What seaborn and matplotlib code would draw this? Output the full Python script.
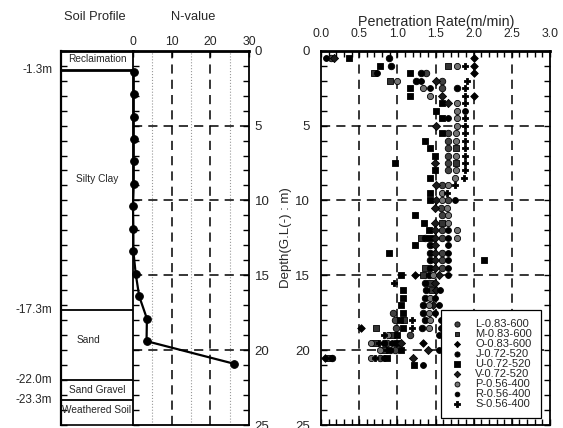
import matplotlib
matplotlib.use("Agg")
import matplotlib.pyplot as plt
import seaborn as sns
from matplotlib.ticker import MultipleLocator

sns.set_style("white")
plt.rcParams["font.family"] = ["Liberation Sans", "DejaVu Sans"]

# ---------------- soil profile ----------------
layer_bounds = [1.3, 17.3, 22.0, 23.3]
bound_labels = ["-1.3m", "-17.3m", "-22.0m", "-23.3m"]
layer_names = ["Reclaimation", "Silty Clay", "Sand", "Sand Gravel", "Weathered Soil"]
layer_label_depth = [0.55, 8.6, 19.3, 22.65, 24.0]
layer_label_x = [0.5, 0.5, 0.38, 0.5, 0.5]

# ---------------- SPT N-value ----------------
spt_depth = [1.4, 2.9, 4.4, 5.9, 7.4, 8.9, 10.4, 11.9, 13.4, 14.9, 16.4, 17.9, 19.4, 20.9]
spt_n = [0.2, 0.2, 0.2, 0.2, 0.2, 0.2, 0.0, 0.1, 0.1, 0.7, 1.6, 3.6, 3.5, 26.0]

# ---------------- penetration rate (m/min) by series ----------------
L_depth = [0.5, 1.5, 2.0, 2.5, 5.5, 6.0, 6.5, 7.0, 7.5, 8.0, 9.0, 10.0, 10.5, 11.0, 12.0, 12.5,
           13.5, 14.0, 14.5, 17.5, 18.0, 18.5, 19.0, 19.5, 20.0, 20.5]
L_rate = [0.13, 1.37, 1.59, 1.58, 1.67, 1.67, 1.67, 1.67, 1.67, 1.67, 1.58, 1.66, 1.57, 1.58, 1.58, 1.58,
          1.58, 1.58, 1.58, 0.94, 0.97, 0.98, 1.17, 0.86, 0.97, 0.77]

M_depth = [1.0, 1.5, 2.0, 6.5, 7.5, 11.5, 12.5, 14.5, 15.0, 15.5, 16.0, 18.0, 18.5, 19.0, 19.5, 20.0, 20.5]
M_rate = [1.67, 0.70, 0.91, 1.77, 1.77, 1.58, 1.31, 1.36, 1.34, 1.43, 1.45, 1.09, 0.72, 0.93, 0.71, 0.82, 0.10]

O_depth = [0.5, 1.0, 1.5, 3.0, 15.0, 18.5, 19.5, 20.5]
O_rate = [2.01, 2.01, 2.01, 2.01, 1.23, 0.52, 1.34, 0.05]

J_depth = [0.5, 1.0, 1.5, 2.0, 2.5, 12.5, 13.0, 13.5, 14.0, 14.5, 15.0, 15.5, 16.0, 16.5, 17.0, 17.5,
           18.0, 18.5, 19.5, 20.0, 20.5]
J_rate = [0.89, 0.92, 1.31, 1.25, 1.78, 1.36, 1.43, 1.43, 1.43, 1.43, 1.41, 1.36, 1.38, 1.36, 1.34, 1.34,
          1.36, 1.32, 0.82, 0.90, 0.15]

U_depth = [0.5, 1.0, 1.5, 2.5, 3.0, 3.5, 4.0, 4.5, 5.5, 6.0, 6.5, 7.0, 7.5, 8.0, 8.5, 9.5, 10.0, 11.0,
           11.5, 12.0, 12.5, 13.0, 13.5, 14.0, 15.0, 16.0, 16.5, 17.0, 17.5, 18.0, 18.5, 19.0, 19.5,
           20.0, 20.5, 21.0]
U_rate = [0.37, 0.77, 1.17, 1.17, 1.17, 1.58, 1.50, 1.58, 1.58, 1.36, 1.43, 1.49, 0.97, 1.49, 1.43, 1.43,
          1.43, 1.23, 1.35, 1.41, 1.43, 1.23, 0.89, 2.13, 1.05, 1.08, 1.08, 1.05, 1.07, 1.04, 1.07, 0.99,
          1.00, 1.05, 0.87, 1.22]

V_depth = [0.5, 2.0, 3.0, 3.5, 5.0, 7.5, 9.0, 10.0, 10.5, 11.5, 12.0, 12.5, 13.0, 13.5, 14.0, 14.5,
           15.0, 15.5, 16.0, 17.0, 19.5, 20.0, 20.5]
V_rate = [0.17, 1.50, 1.59, 1.67, 1.50, 1.49, 1.50, 1.50, 1.49, 1.49, 1.49, 1.49, 1.49, 1.49, 1.49, 1.49,
          1.55, 1.49, 1.50, 1.47, 1.05, 1.40, 1.21]

P_depth = [1.0, 2.0, 2.5, 3.0, 3.5, 4.0, 4.5, 5.0, 5.5, 6.0, 7.0, 8.0, 8.5, 9.0, 9.5, 10.0, 10.5, 11.0,
           11.5, 12.0, 12.5, 15.0, 16.5, 17.0, 17.5, 18.0, 18.5, 19.0, 19.5, 20.0, 20.5]
P_rate = [1.78, 0.99, 1.34, 1.43, 1.78, 1.78, 1.78, 1.78, 1.77, 1.77, 1.77, 1.77, 1.76, 1.67, 1.58, 1.58,
          1.65, 1.66, 1.66, 1.78, 1.78, 1.47, 1.43, 1.41, 1.41, 1.43, 1.41, 0.88, 0.66, 0.77, 0.66]

R_depth = [0.5, 1.5, 2.0, 2.5, 4.0, 4.5, 10.0, 12.0, 12.5, 13.0, 13.5, 14.0, 14.5, 15.0, 16.0, 16.5,
           17.0, 17.5, 18.0, 18.5, 19.0, 19.5, 20.0, 20.5, 21.0]
R_rate = [0.07, 0.73, 1.31, 1.43, 1.89, 1.67, 1.76, 1.67, 1.67, 1.67, 1.67, 1.67, 1.67, 1.66, 1.56, 1.49,
          1.55, 1.49, 1.57, 1.57, 1.55, 0.93, 1.55, 0.82, 1.33]

S_depth = [1.0, 2.0, 2.5, 3.0, 3.5, 4.5, 5.0, 5.5, 6.0, 6.5, 7.0, 7.5, 8.0, 8.5, 9.0, 9.5, 15.5, 18.0,
           18.5, 19.0, 19.5, 20.0, 20.5]
S_rate = [1.88, 1.91, 1.89, 1.89, 1.89, 1.89, 1.89, 1.88, 1.88, 1.88, 1.88, 1.88, 1.88, 1.87, 1.76, 1.65,
          0.95, 1.19, 1.19, 0.82, 0.76, 0.86, 0.71]

series_names = ["L-0.83-600", "M-0.83-600", "O-0.83-600", "J-0.72-520", "U-0.72-520",
                "V-0.72-520", "P-0.56-400", "R-0.56-400", "S-0.56-400"]
series_depth = [L_depth, M_depth, O_depth, J_depth, U_depth, V_depth, P_depth, R_depth, S_depth]
series_rate = [L_rate, M_rate, O_rate, J_rate, U_rate, V_rate, P_rate, R_rate, S_rate]
series_style = [
    dict(marker="o", s=22, color="0.25"),
    dict(marker="s", s=16, color="0.2"),
    dict(marker="D", s=15, color="black"),
    dict(marker="o", s=22, color="black"),
    dict(marker="s", s=22, color="black"),
    dict(marker="D", s=17, color="0.1"),
    dict(marker="o", s=20, color="0.45"),
    dict(marker="o", s=18, color="black"),
    dict(marker="P", s=24, color="black"),
]

# ---------------- layout ----------------
W, H = 563, 428
fig = plt.figure(figsize=(W / 100, H / 100), dpi=100)


def fx(px):
    return px / W


def fy(py):
    return 1 - py / H


top_px, bot_px = 50.7, 425.0
y0, hh = fy(bot_px), fy(top_px) - fy(bot_px)
ax_soil = fig.add_axes([fx(61), y0, fx(133) - fx(61), hh])
ax_n = fig.add_axes([fx(133), y0, fx(249) - fx(133), hh])
ax_p = fig.add_axes([fx(321), y0, fx(550) - fx(321), hh])

dash = (0, (6, 4))
tick_kw = dict(direction="in", color="black")

# soil profile column
ax_soil.set_xlim(0, 1)
ax_soil.set_ylim(25, 0)
ax_soil.spines["right"].set_visible(False)
ax_soil.spines["left"].set_linewidth(1.6)
ax_soil.spines["top"].set_linewidth(2.0)
ax_soil.spines["bottom"].set_linewidth(1.2)
for s in ["left", "top", "bottom"]:
    ax_soil.spines[s].set_color("black")
ax_soil.set_xticks([])
ax_soil.yaxis.set_major_locator(MultipleLocator(1))
ax_soil.tick_params(axis="y", which="both", left=True, length=4, width=1, labelleft=False, **tick_kw)
for d, lw in zip(layer_bounds, [2.0, 1.3, 1.3, 1.3]):
    ax_soil.axhline(d, color="black", lw=lw)
for d, t in zip(layer_bounds, bound_labels):
    ax_soil.text(-0.12, d, t, ha="right", va="center", fontsize=8.5, clip_on=False)
for name, d, x in zip(layer_names, layer_label_depth, layer_label_x):
    ax_soil.text(x, d, name, ha="center", va="center", fontsize=7.3)

# N-value panel
ax_n.set_xlim(0, 30)
ax_n.set_ylim(25, 0)
for s in ax_n.spines.values():
    s.set_color("black")
    s.set_linewidth(1.3)
ax_n.spines["top"].set_linewidth(2.0)
ax_n.xaxis.tick_top()
ax_n.set_xticks([0, 10, 20, 30])
ax_n.tick_params(axis="x", which="major", top=True, bottom=False, length=4, width=1,
                 labelsize=8.8, pad=2, **tick_kw)
ax_n.yaxis.tick_right()
ax_n.yaxis.set_major_locator(MultipleLocator(5))
ax_n.yaxis.set_minor_locator(MultipleLocator(1))
ax_n.tick_params(axis="y", which="both", left=True, right=True, labelleft=False, labelright=True,
                 length=4, width=1, labelsize=9.5, pad=4, **tick_kw)
for v in [5, 15, 25]:
    ax_n.axvline(v, color="0.6", lw=0.8, ls=":")
for v in [10, 20]:
    ax_n.axvline(v, color="black", lw=1.1, ls=dash)
for d in [5, 10, 15, 20]:
    ax_n.axhline(d, color="black", lw=1.1, ls=dash)
sns.lineplot(x=spt_n, y=spt_depth, sort=False, estimator=None, ax=ax_n, color="black",
             lw=1.6, marker="o", markersize=5.5, markeredgecolor="black", clip_on=False,
             zorder=5, legend=False)
ax_n.set_xlabel("")
ax_n.set_ylabel("")

# penetration rate panel
ax_p.set_xlim(0, 3)
ax_p.set_ylim(25, 0)
for s in ax_p.spines.values():
    s.set_color("black")
    s.set_linewidth(1.3)
ax_p.spines["top"].set_linewidth(2.0)
ax_p.xaxis.set_major_locator(MultipleLocator(0.5))
ax_p.xaxis.set_minor_locator(MultipleLocator(0.1))
ax_p.xaxis.set_major_formatter(matplotlib.ticker.FormatStrFormatter("%.1f"))
ax_p.tick_params(axis="x", which="both", top=True, bottom=True, labeltop=True, labelbottom=False,
                 length=4, width=1, labelsize=8.8, pad=8, **tick_kw)
ax_p.yaxis.set_major_locator(MultipleLocator(5))
ax_p.yaxis.set_minor_locator(MultipleLocator(1))
ax_p.tick_params(axis="y", which="both", left=True, right=True, labelleft=True, labelright=False,
                 length=4, width=1, labelsize=9.5, pad=8, **tick_kw)
for v in [0.5, 1.0, 1.5, 2.0, 2.5]:
    ax_p.axvline(v, color="black", lw=1.1, ls=dash, zorder=1)
for d in [5, 10, 15, 20]:
    ax_p.axhline(d, color="black", lw=1.1, ls=dash, zorder=1)

for name, dep, rate, st in zip(series_names, series_depth, series_rate, series_style):
    sns.scatterplot(x=rate, y=dep, ax=ax_p, marker=st["marker"], s=st["s"], color=st["color"],
                    edgecolor="black", linewidth=0.6, label=name, zorder=3, clip_on=False)

ax_p.set_xlabel("")
ax_p.set_ylabel("Depth(G.L(-) : m)", fontsize=9.5)
ax_p.yaxis.set_label_coords(-0.125, 0.5)
leg = ax_p.legend(loc="lower right", bbox_to_anchor=(0.961, 0.0187), borderaxespad=0,
                  frameon=True, fancybox=False, edgecolor="black", framealpha=1, fontsize=8,
                  handletextpad=1.1, labelspacing=0.0, borderpad=0.8, handlelength=1.2,
                  markerscale=0.8)
leg.get_frame().set_linewidth(0.9)

# headings
fig.text(fx(95), fy(17), "Soil Profile", ha="center", va="center", fontsize=9.3)
fig.text(fx(193), fy(17), "N-value", ha="center", va="center", fontsize=9.3)
fig.text(fx(436), fy(22), "Penetration Rate(m/min)", ha="center", va="center", fontsize=10.3)

fig.savefig("out.png", dpi=100)
